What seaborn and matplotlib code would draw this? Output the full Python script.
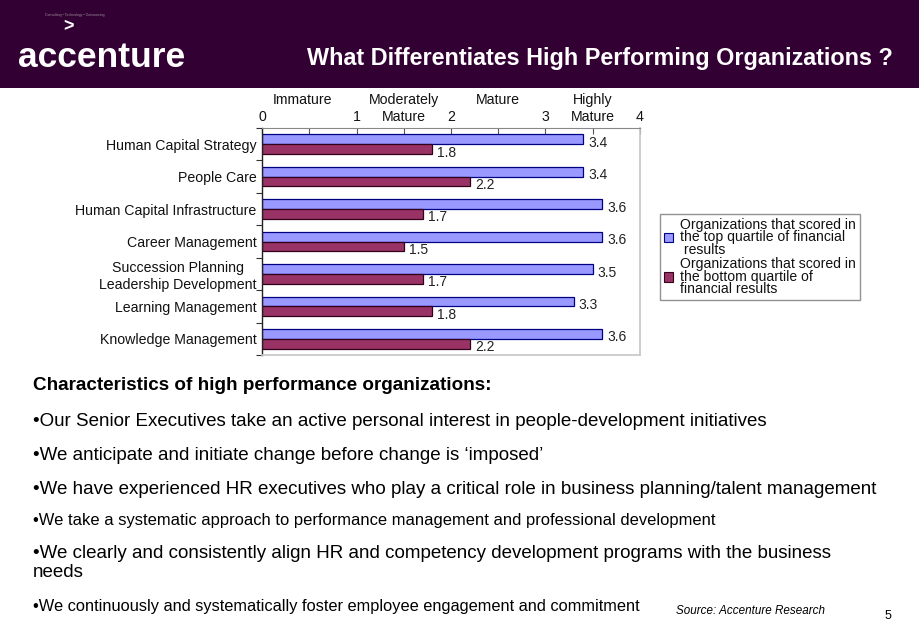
import matplotlib
matplotlib.use("Agg")
import matplotlib.pyplot as plt
import matplotlib.transforms as mtransforms
from matplotlib.patches import Rectangle, Patch
import seaborn as sns
import pandas as pd

sns.set_theme(style="white")
plt.rcParams['font.family'] = ['Liberation Sans', 'DejaVu Sans']

categories = ["Human Capital Strategy", "People Care", "Human Capital Infrastructure",
              "Career Management", "Succession Planning\nLeadership Development",
              "Learning Management", "Knowledge Management"]
top_quartile = [3.4, 3.4, 3.6, 3.6, 3.5, 3.3, 3.6]
bottom_quartile = [1.8, 2.2, 1.7, 1.5, 1.7, 1.8, 2.2]
series_names = ["Organizations that scored in\nthe top quartile of financial\n results",
                "Organizations that scored in\nthe bottom quartile of\nfinancial results"]
x_ticks = [0, 1, 2, 3, 4]
maturity_labels = ["Immature", "Moderately\nMature", "Mature", "Highly\nMature"]
maturity_pos = [0.43, 1.5, 2.5, 3.5]
title = "What Differentiates High Performing Organizations ?"
heading = "Characteristics of high performance organizations:"
bullets = [
    ("•Our Senior Executives take an active personal interest in people-development initiatives", 13.5),
    ("•We anticipate and initiate change before change is \u2018imposed\u2019", 13.5),
    ("•We have experienced HR executives who play a critical role in business planning/talent management", 13.5),
    ("•We take a systematic approach to performance management and professional development", 11.9),
    ("•We clearly and consistently align HR and competency development programs with the business\nneeds", 13.5),
    ("•We continuously and systematically foster employee engagement and commitment", 11.8),
]
bullet_y = [421, 455, 489, 520, 563, 606]

colors = ["#9999FF", "#993366"]
edges = ["#000080", "#330019"]

df = pd.DataFrame({
    "category": categories * 2,
    "value": top_quartile + bottom_quartile,
    "series": [series_names[0]] * len(categories) + [series_names[1]] * len(categories),
})

W, H = 920, 637
fig = plt.figure(figsize=(W / 100, H / 100), dpi=100)
fig.patch.set_facecolor("white")

# header band
fig.patches.append(Rectangle((0, 1 - 88 / H), 1, 88 / H, transform=fig.transFigure,
                             facecolor="#330033", edgecolor="none", zorder=0))
fig.text(18 / W, 1 - 67 / H, "accenture", color="white", fontsize=25.5, fontweight="bold",
         ha="left", va="baseline")
fig.text(69 / W, 1 - 27 / H, ">", color="white", fontsize=13, fontweight="bold",
         ha="center", va="center")
fig.text(45 / W, 1 - 15 / H, "Consulting \u2022 Technology \u2022 Outsourcing", color="#9a8a9a",
         fontsize=2.5, ha="left", va="center")
fig.text(893 / W, 1 - 58 / H, title, color="white", fontsize=16.8, fontweight="bold",
         ha="right", va="center")

# chart axes
ax_left, ax_right, ax_top, ax_bot = 262, 640, 128, 355
ax = fig.add_axes([ax_left / W, 1 - ax_bot / H, (ax_right - ax_left) / W, (ax_bot - ax_top) / H])
sns.barplot(data=df, y="category", x="value", hue="series", orient="h", ax=ax,
            palette=colors, width=0.6, legend=True, linewidth=0.9, saturation=1)
for i, cont in enumerate(ax.containers):
    for bar in cont:
        bar.set_edgecolor(edges[i])
    for bar, v in zip(cont, [top_quartile, bottom_quartile][i]):
        ax.annotate(f"{v:.1f}", (bar.get_width(), bar.get_y() + bar.get_height() / 2),
                    xytext=(3.5, -2.5), textcoords="offset points", ha="left", va="center",
                    fontsize=10, color="#222222")

ax.set_xlim(0, 4)
ax.set_ylim(len(categories) - 0.5, -0.5)
ax.set_xlabel("")
ax.set_ylabel("")
ax.xaxis.tick_top()
ax.set_xticks(x_ticks)
ax.set_xticks([0.5, 1.5, 2.5, 3.5], minor=True)
ax.tick_params(axis="x", which="both", direction="in", length=4, width=0.8, color="#555555",
               labelsize=10.2, pad=3, top=True, bottom=False, labelcolor="#111111")
ax.set_yticks(range(len(categories)))
ax.set_yticklabels(categories, fontsize=10.2, color="#111111", multialignment="center")
ax.set_yticks([i + 0.5 for i in range(-1, len(categories))], minor=True)
ax.tick_params(axis="y", which="major", length=0, pad=4, left=True)
ax.tick_params(axis="y", which="minor", length=4, width=0.8, color="#333333", direction="out", left=True)
ax.grid(False)
ax.spines["left"].set_color("#222222")
ax.spines["left"].set_linewidth(1.0)
ax.spines["top"].set_color("#888888")
ax.spines["top"].set_linewidth(0.8)
ax.spines["right"].set_color("#c8c8c8")
ax.spines["bottom"].set_color("#c8c8c8")
ax.set_facecolor("white")

trans = mtransforms.blended_transform_factory(ax.transData, fig.transFigure)
for pos, lab in zip(maturity_pos, maturity_labels):
    for j, ln in enumerate(lab.split("\n")):
        ax.text(pos, 1 - (100 + 17 * j) / H, ln, transform=trans, ha="center", va="center",
                fontsize=10.2, color="#111111")

# legend
ax.get_legend().remove()
leg_handles = [Patch(facecolor=colors[i], edgecolor=edges[i], linewidth=0.8) for i in range(2)]
leg = fig.legend(leg_handles, series_names, loc="upper left",
                 bbox_to_anchor=(660 / W, 1 - 214 / H), fontsize=10.1, frameon=True,
                 fancybox=False, edgecolor="#777777", handlelength=0.65, handleheight=0.65,
                 handletextpad=0.55, borderpad=0.25, labelspacing=0.0, borderaxespad=0)
leg.get_frame().set_linewidth(1.0)
for t in leg.get_texts():
    t.set_linespacing(0.88)
    t.set_color("#111111")

# bottom text
fig.text(33 / W, 1 - 386 / H, heading, fontsize=13.6, fontweight="bold", ha="left",
         va="center", color="black")
for (txt, fs), y in zip(bullets, bullet_y):
    fig.text(33 / W, 1 - y / H, txt, fontsize=fs, ha="left", va="center", color="black",
             linespacing=1.2)
fig.text(676 / W, 1 - 611 / H, "Source: Accenture Research", fontsize=8.4, style="italic",
         ha="left", va="center", color="black")
fig.text(888 / W, 1 - 616 / H, "5", fontsize=9, ha="center", va="center", color="black")

fig.savefig("out.png", dpi=100, facecolor="white")
